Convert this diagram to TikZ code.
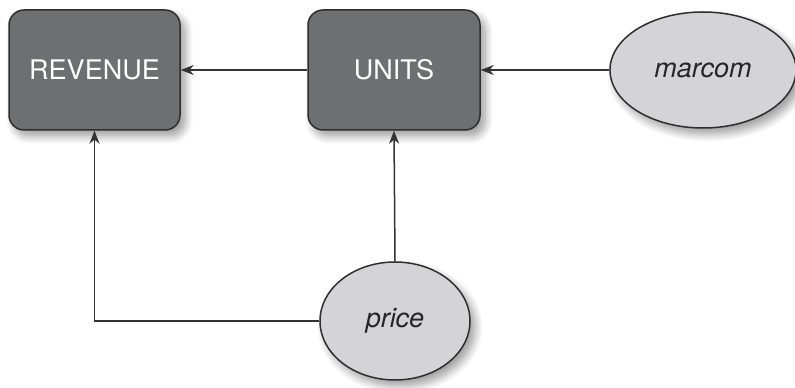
\documentclass[tikz,border=0pt]{standalone}
\usepackage{fontspec}
\setmainfont{TeX Gyre Heros}
\usetikzlibrary{shapes.geometric,arrows.meta,shadows.blur}
\definecolor{boxgray}{HTML}{6E6F71}
\definecolor{ellgray}{HTML}{D4D4D6}
\definecolor{edgegray}{HTML}{2E2E2E}
\begin{document}
\begin{tikzpicture}[x=1pt,y=1pt,
  varbox/.style={draw=edgegray, line width=1.5pt, fill=boxgray, rounded corners=15pt,
    minimum width=171pt, minimum height=120pt, text=white, font=\fontsize{27}{32}\selectfont,
    blur shadow={shadow xshift=5pt, shadow yshift=-6pt, shadow blur steps=10, shadow blur radius=8pt, shadow opacity=40}},
  varell/.style={ellipse, draw=edgegray, line width=1.5pt, fill=ellgray, inner sep=0pt,
    font=\fontsize{27}{32}\selectfont\itshape, text=black!85,
    blur shadow={shadow xshift=5pt, shadow yshift=-6pt, shadow blur steps=10, shadow blur radius=8pt, shadow opacity=40}},
  conn/.style={draw=black!80, line width=1.5pt, -{Stealth[length=13pt,width=10pt]}}
]
\useasboundingbox (0,0) rectangle (795,388);
\node[varbox] (rev) at (94.5,318) {REVENUE};
\node[varbox, minimum width=172pt] (units) at (394,318) {UNITS};
\node[varell, minimum width=186pt, minimum height=116pt] (marcom) at (703,318) {marcom};
\node[varell, minimum width=150pt, minimum height=118pt] (price) at (395,67) {price};
\draw[conn] (units.west) -- (rev.east);
\draw[conn] (marcom.west) -- (units.east);
\draw[conn] (price.north) -- (units.south);
\draw[conn] (price.west) -| (rev.south);
\end{tikzpicture}
\end{document}
